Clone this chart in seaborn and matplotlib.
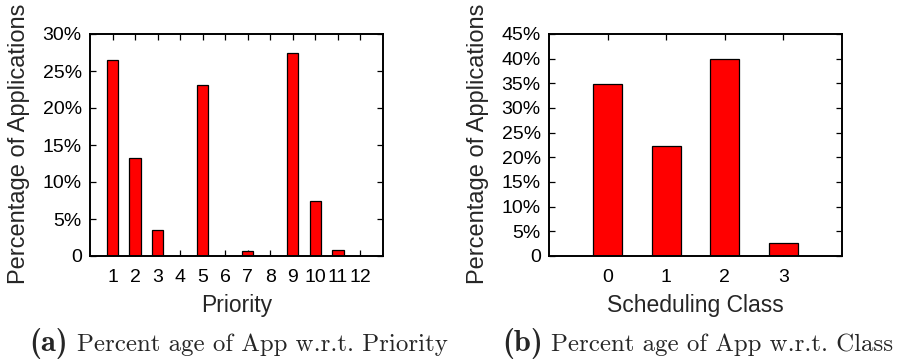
import matplotlib
matplotlib.use("Agg")
import matplotlib.pyplot as plt
import seaborn as sns
import pandas as pd
from matplotlib.ticker import FuncFormatter

# Share of applications per priority level (percent)
priority_levels = ["1", "2", "3", "4", "5", "6", "7", "8", "9", "10", "11", "12"]
priority_pct = [26.5, 13.2, 3.45, 0.05, 23.1, 0.05, 0.65, 0.02, 27.5, 7.5, 0.8, 0.02]

# Share of applications per scheduling class (percent)
sched_classes = ["0", "1", "2", "3"]
sched_pct = [34.9, 22.3, 40.0, 2.6]

priority_yticks = [0, 5, 10, 15, 20, 25, 30]
sched_yticks = [0, 5, 10, 15, 20, 25, 30, 35, 40, 45]

sns.set_theme(style="white")
plt.rcParams["font.family"] = ["Liberation Sans", "DejaVu Sans"]

fig = plt.figure(figsize=(9.0, 3.63), dpi=100)
W, H = 900.0, 363.0


def px_axes(x0, y0, x1, y1):
    return fig.add_axes([x0 / W, 1 - y1 / H, (x1 - x0) / W, (y1 - y0) / H])


pct_fmt = FuncFormatter(lambda v, _: "0" if v == 0 else f"{v:.0f}%")


def style_axes(ax, yticks, xlabel):
    ax.set_ylim(yticks[0], yticks[-1])
    ax.set_yticks(yticks)
    ax.yaxis.set_major_formatter(pct_fmt)
    for s in ax.spines.values():
        s.set_visible(True)
        s.set_color("black")
        s.set_linewidth(1.4)
    ax.tick_params(axis="both", direction="in", length=4, width=0.9,
                   top=True, right=True, bottom=True, left=True,
                   labelsize=14, colors="black")
    ax.tick_params(axis="x", pad=9)
    ax.tick_params(axis="y", pad=6)
    ax.set_xlabel(xlabel, fontsize=16.5, labelpad=6)
    ax.set_ylabel("Percentage of Applications", fontsize=17)
    ax.yaxis.set_label_coords(-0.205, 0.505)


bar_kw = dict(color="#ff0000", edgecolor="black", linewidth=0.9, width=0.5,
              saturation=1)

# (a) priority
ax1 = px_axes(90, 34, 383, 256)
df1 = pd.DataFrame({"Priority": priority_levels, "pct": priority_pct})
sns.barplot(data=df1, x="Priority", y="pct", order=priority_levels, ax=ax1, **bar_kw)
ax1.set_xlim(-1, len(priority_levels))
style_axes(ax1, priority_yticks, "Priority")

# (b) scheduling class
ax2 = px_axes(549, 34, 842, 256)
df2 = pd.DataFrame({"Scheduling Class": sched_classes, "pct": sched_pct})
sns.barplot(data=df2, x="Scheduling Class", y="pct", order=sched_classes, ax=ax2, **bar_kw)
ax2.set_xlim(-1, len(sched_classes))
style_axes(ax2, sched_yticks, "Scheduling Class")

# Sub-figure captions: bold tag followed by roman text
tag_kw = dict(fontsize=22, family=["cmb10", "DejaVu Serif"], va="baseline", ha="left")
cap_kw = dict(fontsize=17.9, family=["cmr10", "DejaVu Serif"], va="baseline", ha="left")
base_y = 1 - 351 / H
fig.text(29 / W, base_y, "(a)", **tag_kw)
fig.text(77 / W, base_y, "Percent age of App w.r.t. Priority", **cap_kw)
fig.text(502 / W, base_y, "(b)", **tag_kw)
fig.text(551 / W, base_y, "Percent age of App w.r.t. Class", **cap_kw)

fig.savefig("out.png", dpi=100)
